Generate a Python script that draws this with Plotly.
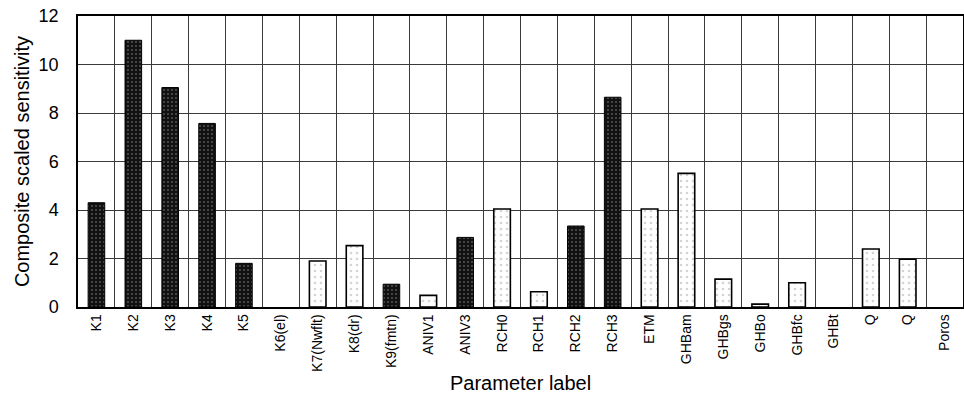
import plotly.graph_objects as go

labels = ["K1", "K2", "K3", "K4", "K5", "K6(el)", "K7(Nwflt)", "K8(dr)", "K9(fmtn)",
          "ANIV1", "ANIV3", "RCH0", "RCH1", "RCH2", "RCH3", "ETM", "GHBam", "GHBgs",
          "GHBo", "GHBfc", "GHBt", "Q", "Q", "Poros"]
values = [4.3, 11.0, 9.05, 7.57, 1.8, 0.0, 1.9, 2.53, 0.94,
          0.48, 2.87, 4.04, 0.63, 3.34, 8.65, 4.04, 5.51, 1.15,
          0.12, 1.0, 0.0, 2.39, 1.97, 0.0]
# 'dark' = filled bars, 'light' = open stippled bars
kinds = ["dark", "dark", "dark", "dark", "dark", "light", "light", "light", "dark",
         "light", "dark", "light", "light", "dark", "dark", "light", "light", "light",
         "light", "light", "light", "light", "light", "light"]

pos = list(range(len(labels)))
dark_x = [p for p, v, k in zip(pos, values, kinds) if k == "dark" and v > 0]
dark_y = [v for v, k in zip(values, kinds) if k == "dark" and v > 0]
light_x = [p for p, v, k in zip(pos, values, kinds) if k == "light" and v > 0]
light_y = [v for v, k in zip(values, kinds) if k == "light" and v > 0]

FONT = "Liberation Sans, Arial, sans-serif"

fig = go.Figure()
fig.add_trace(go.Bar(
    x=dark_x, y=dark_y, width=0.45,
    marker=dict(color="#111111", line=dict(color="#000000", width=1),
                pattern=dict(shape=".", fgcolor="#9a9a9a", size=4, solidity=0.2)),
    showlegend=False, hoverinfo="y"))
fig.add_trace(go.Bar(
    x=light_x, y=light_y, width=0.45,
    marker=dict(color="#ffffff", line=dict(color="#000000", width=1.6),
                pattern=dict(shape=".", fgcolor="#aaaaaa", bgcolor="#ffffff", size=6, solidity=0.15)),
    showlegend=False, hoverinfo="y"))

fig.update_layout(
    width=964, height=407,
    margin=dict(l=78, r=1, t=16, b=100),
    paper_bgcolor="white", plot_bgcolor="white",
    font=dict(family=FONT, color="#000000"),
    barmode="overlay",
    xaxis=dict(
        range=[-0.5, len(labels) - 0.5], automargin=False,
        tickmode="array", tickvals=pos, ticktext=labels,
        tickangle=-90, tickfont=dict(size=14, family=FONT),
        showgrid=False, ticks="",
        minor=dict(tickmode="linear", tick0=0.5, dtick=1, showgrid=True,
                   gridcolor="#3a3a3a", gridwidth=1, ticks=""),
        showline=True, linecolor="#000000", linewidth=1.5, mirror=True,
        zeroline=False,
    ),
    yaxis=dict(
        range=[0, 12], tickmode="linear", tick0=0, dtick=2, automargin=False,
        tickfont=dict(size=18, family=FONT), ticklabeloverflow="allow",
        showgrid=True, gridcolor="#3a3a3a", gridwidth=1,
        showline=True, linecolor="#000000", linewidth=1.5, mirror=True,
        ticks="", ticklabelstandoff=14,
        title=dict(text="Composite scaled sensitivity", font=dict(size=20, family=FONT), standoff=4),
        zeroline=False,
    ),
    annotations=[dict(
        text="Parameter label", xref="paper", yref="paper", x=0.5, y=0,
        xanchor="center", yanchor="middle", yshift=-76, showarrow=False,
        font=dict(size=20, family=FONT, color="#000000"))],
)

# remove the browser's default 8px body margin so the figure fills the window
fig.write_html("out.html",
               config={"displayModeBar": False},
               post_script="document.body.style.margin='0';document.body.style.overflow='hidden';")
